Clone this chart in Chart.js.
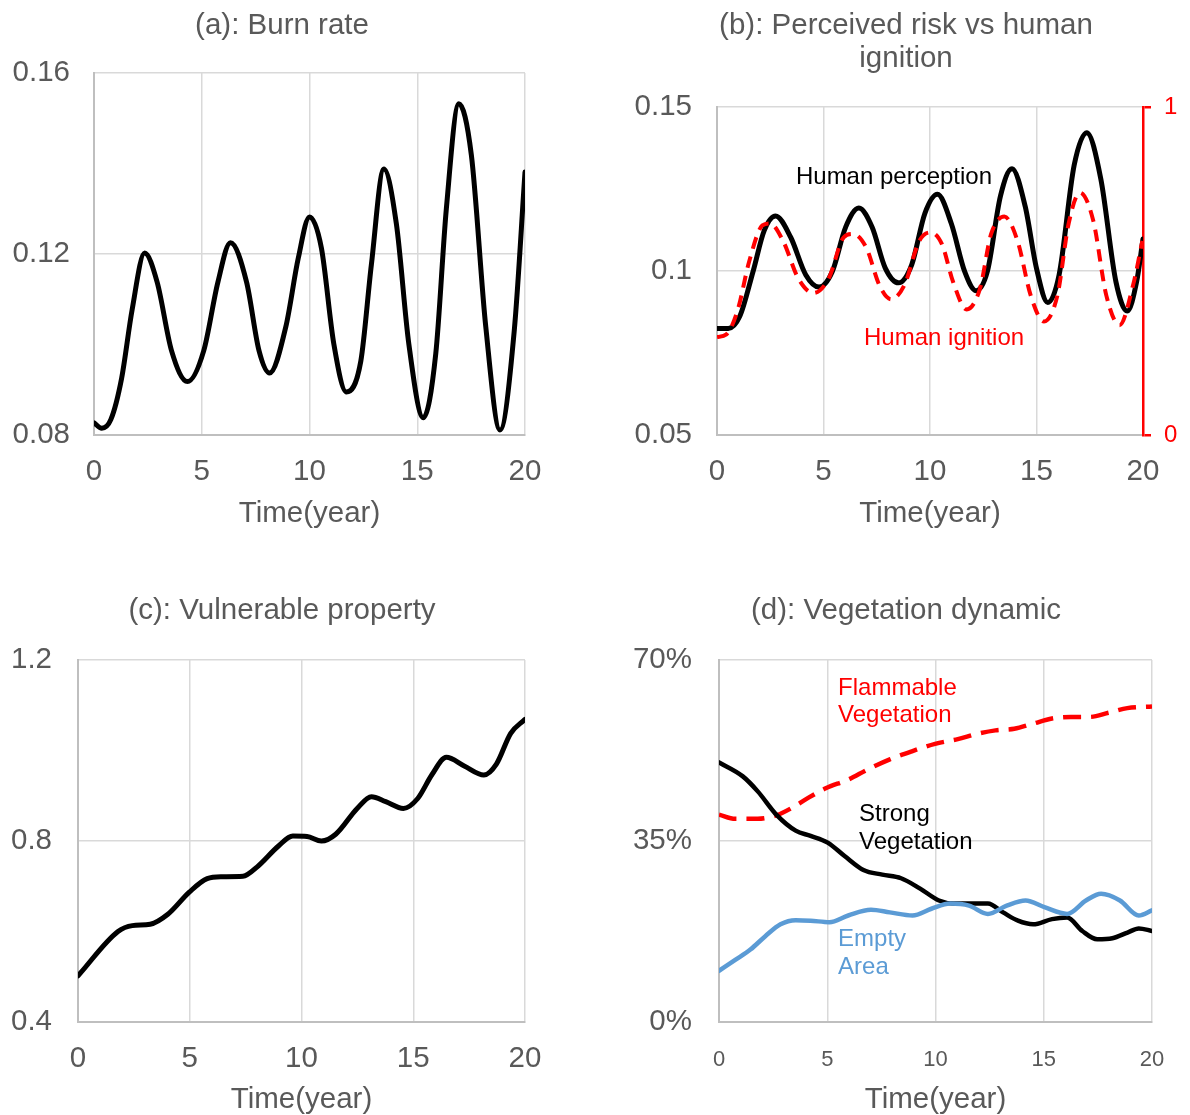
<!DOCTYPE html>
<html>
<head>
<meta charset="utf-8">
<script src="https://cdn.jsdelivr.net/npm/chart.js@4.4.1/dist/chart.umd.min.js"></script>
<style>
  body { margin: 0; background: #fff; width: 1190px; height: 1115px; position: relative; overflow: hidden; }
  .panel { position: absolute; width: 595px; }
</style>
</head>
<body>
<div class="panel" style="left:0;top:0;height:545px"><canvas id="burnChart"></canvas></div>
<div class="panel" style="left:595px;top:0;height:545px"><canvas id="riskChart"></canvas></div>
<div class="panel" style="left:0;top:545px;height:570px"><canvas id="propertyChart"></canvas></div>
<div class="panel" style="left:595px;top:545px;height:570px"><canvas id="vegChart"></canvas></div>
<script>
// (a) burn rate
const burnYears = [0, 0.36, 0.78, 1.28, 1.77, 2.35, 2.93, 3.6, 4.34, 5.09, 5.75, 6.33, 7.08, 7.66, 8.15, 8.9, 9.48, 10.0, 10.55, 11.13, 11.71, 12.38, 12.87, 13.45, 14.03, 14.61, 15.28, 15.86, 16.35, 16.93, 17.51, 18.18, 18.84, 19.5, 20];
const burnRate = [0.0827, 0.0815, 0.0834, 0.0925, 0.1077, 0.1202, 0.1138, 0.0986, 0.0918, 0.0986, 0.1138, 0.1225, 0.1138, 0.0986, 0.0937, 0.1039, 0.1191, 0.1282, 0.1214, 0.1001, 0.0895, 0.0963, 0.1176, 0.1388, 0.1267, 0.1001, 0.0838, 0.0980, 0.1300, 0.1532, 0.1419, 0.1039, 0.0811, 0.1030, 0.1381];

// (b) perceived risk (left axis) vs human ignition (right axis)
const percYears = [0, 0.53, 1.07, 1.69, 2.22, 2.75, 3.46, 4.17, 4.79, 5.41, 6.04, 6.66, 7.28, 7.9, 8.52, 9.14, 9.76, 10.35, 11.0, 11.63, 12.16, 12.69, 13.31, 13.85, 14.47, 15.0, 15.53, 16.06, 16.77, 17.36, 18.02, 18.73, 19.26, 19.7, 20];
const perception = [0.0825, 0.0825, 0.0862, 0.0998, 0.1124, 0.1168, 0.1103, 0.0988, 0.0951, 0.0998, 0.1134, 0.1192, 0.1134, 0.1009, 0.0964, 0.1019, 0.1176, 0.1234, 0.1145, 0.0998, 0.0940, 0.0998, 0.1229, 0.1312, 0.1197, 0.1008, 0.0904, 0.0988, 0.1323, 0.1422, 0.1281, 0.0967, 0.0878, 0.0967, 0.1098];
const ignYears = [0, 0.44, 0.98, 1.51, 2.13, 2.49, 3.1, 3.82, 4.53, 5.24, 5.95, 6.39, 7.01, 7.63, 8.17, 8.79, 9.5, 10.03, 10.56, 11.09, 11.72, 12.34, 12.87, 13.49, 14.11, 14.73, 15.35, 15.98, 16.51, 17.04, 17.66, 18.28, 18.9, 19.53, 19.97];
const ignition = [0.299, 0.307, 0.383, 0.529, 0.639, 0.645, 0.592, 0.477, 0.433, 0.477, 0.603, 0.613, 0.571, 0.456, 0.414, 0.456, 0.592, 0.618, 0.582, 0.466, 0.383, 0.445, 0.613, 0.666, 0.592, 0.425, 0.346, 0.425, 0.645, 0.739, 0.655, 0.425, 0.335, 0.456, 0.592];

// (c) vulnerable property
const propYears = [0, 1.79, 2.43, 3.23, 4.02, 4.98, 5.78, 6.42, 7.38, 8.02, 8.97, 9.61, 10.25, 10.89, 11.53, 12.49, 13.13, 13.77, 14.56, 15.2, 15.84, 16.48, 17.28, 18.16, 18.72, 19.36, 20];
const property = [0.502, 0.600, 0.613, 0.616, 0.638, 0.687, 0.717, 0.721, 0.722, 0.743, 0.789, 0.811, 0.810, 0.800, 0.815, 0.872, 0.898, 0.887, 0.872, 0.894, 0.947, 0.985, 0.966, 0.946, 0.970, 1.038, 1.069];

// (d) vegetation dynamic, percent
const strongYears = [0, 1.1, 1.79, 2.67, 3.54, 4.23, 5.02, 5.8, 6.67, 7.54, 8.41, 9.29, 10.16, 10.85, 11.72, 12.42, 13.12, 13.81, 14.51, 15.38, 16.08, 16.78, 17.47, 18.17, 18.87, 19.39, 20];
const strongVeg = [50.2, 47.5, 44.6, 40.0, 37.0, 36.0, 34.7, 32.1, 29.4, 28.5, 27.8, 25.8, 23.5, 22.9, 22.9, 22.9, 21.2, 19.6, 18.9, 19.9, 20.2, 17.6, 16.0, 16.2, 17.3, 18.1, 17.6];
const flamYears = [0, 0.75, 1.79, 2.67, 3.36, 4.06, 4.93, 5.98, 6.85, 7.89, 8.94, 9.98, 11.03, 11.9, 12.77, 13.64, 14.51, 15.38, 16.25, 17.12, 17.99, 18.86, 20];
const flammableVeg = [40.1, 39.3, 39.3, 40.0, 41.4, 43.2, 45.2, 46.9, 48.8, 50.8, 52.4, 53.8, 54.7, 55.7, 56.4, 56.7, 57.7, 58.7, 59.0, 59.0, 59.8, 60.7, 61.0];
const emptyYears = [0, 0.75, 1.45, 2.14, 2.84, 3.54, 4.23, 5.1, 5.97, 7.02, 7.89, 8.94, 9.81, 10.68, 11.55, 12.42, 13.29, 14.16, 15.03, 16.08, 16.95, 17.65, 18.52, 19.39, 20];
const emptyArea = [9.9, 12.0, 14.0, 16.6, 18.9, 19.7, 19.6, 19.3, 20.6, 21.7, 21.2, 20.6, 21.9, 22.9, 22.5, 20.9, 22.5, 23.5, 22.2, 20.9, 23.5, 24.8, 23.5, 20.6, 21.6];

const FONT = '"Liberation Sans", Arial, sans-serif';
const GREY = '#595959';
const RED = '#ff0000';
const BLUE = '#5b9bd5';
const BIG = 29.5;

function pts(xs, ys) {
  return xs.map((x, i) => ({ x: x, y: ys[i] }));
}

function line(label, xs, ys, color, width, dash, axis) {
  return {
    label: label,
    data: pts(xs, ys),
    borderColor: color,
    borderWidth: width,
    borderDash: dash || [],
    borderCapStyle: dash ? 'butt' : 'round',
    borderJoinStyle: 'round',
    pointRadius: 0,
    cubicInterpolationMode: 'monotone',
    yAxisID: axis || 'y'
  };
}

// empty right-hand axis, only used to push the title centre where the original has it
function spacer(w) {
  return {
    position: 'right',
    afterFit: a => { a.width = w; },
    ticks: { display: false },
    grid: { display: false },
    border: { display: false }
  };
}

// text labels drawn inside the plot, positioned in data units
const notesPlugin = {
  id: 'notes',
  afterDatasetsDraw(chart, args, opts) {
    const ctx = chart.ctx;
    (opts.items || []).forEach(n => {
      const px = chart.scales.x.getPixelForValue(n.x);
      const py = chart.scales.y.getPixelForValue(n.y);
      ctx.save();
      ctx.font = n.size + 'px ' + FONT;
      ctx.fillStyle = n.color;
      ctx.textAlign = n.align;
      ctx.textBaseline = 'middle';
      n.lines.forEach((t, i) => ctx.fillText(t, px, py + i * n.gap));
      ctx.restore();
    });
  }
};

function makeOptions(cfg) {
  return {
    responsive: true,
    maintainAspectRatio: false,
    animation: false,
    layout: { padding: { left: cfg.padL, right: cfg.padR, top: 0, bottom: 0 } },
    plugins: {
      legend: { display: false },
      tooltip: { enabled: false },
      title: {
        display: true,
        text: cfg.title,
        color: GREY,
        font: { family: FONT, size: BIG, weight: 'normal', lineHeight: 1.12 },
        padding: { top: cfg.titleTop, bottom: cfg.titleBottom }
      },
      notes: { items: cfg.notes || [] }
    },
    scales: Object.assign({
      x: {
        type: 'linear',
        min: 0, max: 20,
        afterFit: a => { a.height = cfg.xHeight; },
        ticks: { stepSize: 5, color: GREY, padding: cfg.xTickPad, font: { family: FONT, size: cfg.xTickSize || BIG } },
        grid: { color: '#d9d9d9', lineWidth: 1.5, drawTicks: false },
        border: { color: '#bfbfbf', width: 2 },
        title: {
          display: true, text: 'Time(year)', color: GREY,
          font: { family: FONT, size: BIG },
          padding: { top: 0, bottom: cfg.xTitlePad }
        }
      },
      y: {
        min: cfg.yMin, max: cfg.yMax,
        afterFit: a => { a.width = cfg.yWidth; },
        ticks: { stepSize: cfg.yStep, color: GREY, padding: cfg.yTickPad, font: { family: FONT, size: BIG }, callback: cfg.yFormat },
        grid: { color: '#d9d9d9', lineWidth: 1.5, drawTicks: false },
        border: { color: '#bfbfbf', width: 2 }
      }
    }, cfg.extraScales || {})
  };
}

new Chart(document.getElementById('burnChart'), {
  type: 'line',
  data: { datasets: [line('Burn rate', burnYears, burnRate, '#000', 5)] },
  options: makeOptions({
    title: '(a): Burn rate', titleTop: 9.5, titleBottom: 30.5,
    padL: 0, padR: 31, yWidth: 94, yTickPad: 24,
    xHeight: 110, xTickPad: 19, xTitlePad: 13,
    yMin: 0.08, yMax: 0.16, yStep: 0.04,
    extraScales: { pad: spacer(39) }
  }),
  plugins: [notesPlugin]
});

new Chart(document.getElementById('riskChart'), {
  type: 'line',
  data: {
    datasets: [
      line('Human ignition', ignYears, ignition, RED, 4, [12, 8], 'y2'),
      line('Human perception', percYears, perception, '#000', 5)
    ]
  },
  options: makeOptions({
    title: ['(b): Perceived risk vs human', 'ignition'], titleTop: 9.5, titleBottom: 31.5,
    padL: 27, padR: 0, yWidth: 95, yTickPad: 25,
    xHeight: 110, xTickPad: 19, xTitlePad: 13,
    yMin: 0.05, yMax: 0.15, yStep: 0.05,
    notes: [
      { lines: ['Human perception'], x: 8.31, y: 0.1287, color: '#000', align: 'center', size: 24, gap: 27 },
      { lines: ['Human ignition'], x: 10.66, y: 0.0796, color: RED, align: 'center', size: 24, gap: 27 }
    ],
    extraScales: {
      y2: {
        position: 'right',
        min: 0, max: 1,
        afterFit: a => { a.width = 47; },
        ticks: { stepSize: 1, color: RED, padding: 13, font: { family: FONT, size: 24 } },
        grid: { drawOnChartArea: false, color: RED, lineWidth: 2.5, tickLength: 8 },
        border: { color: RED, width: 2.5 }
      }
    }
  }),
  plugins: [notesPlugin]
});

new Chart(document.getElementById('propertyChart'), {
  type: 'line',
  data: { datasets: [line('Vulnerable property', propYears, property, '#000', 5)] },
  options: makeOptions({
    title: '(c): Vulnerable property', titleTop: 49.5, titleBottom: 32.5,
    padL: 0, padR: 31, yWidth: 78, yTickPad: 26,
    xHeight: 93, xTickPad: 19, xTitlePad: -3,
    yMin: 0.4, yMax: 1.2, yStep: 0.4,
    extraScales: { pad: spacer(39) }
  }),
  plugins: [notesPlugin]
});

new Chart(document.getElementById('vegChart'), {
  type: 'line',
  data: {
    datasets: [
      line('Empty Area', emptyYears, emptyArea, BLUE, 4.5),
      line('Strong Vegetation', strongYears, strongVeg, '#000', 4.5),
      line('Flammable Vegetation', flamYears, flammableVeg, RED, 4.5, [18, 10])
    ]
  },
  options: makeOptions({
    title: '(d): Vegetation dynamic', titleTop: 49.5, titleBottom: 32.5,
    padL: 27, padR: 0, yWidth: 97, yTickPad: 27,
    xHeight: 93, xTickPad: 25, xTickSize: 22, xTitlePad: -3,
    yMin: 0, yMax: 70, yStep: 35, yFormat: v => v + '%',
    notes: [
      { lines: ['Flammable', 'Vegetation'], x: 5.5, y: 64.6, color: RED, align: 'left', size: 24, gap: 27 },
      { lines: ['Strong', 'Vegetation'], x: 6.47, y: 40.2, color: '#000', align: 'left', size: 24, gap: 28 },
      { lines: ['Empty', 'Area'], x: 5.5, y: 15.9, color: BLUE, align: 'left', size: 24, gap: 28 }
    ],
    extraScales: { pad: spacer(38) }
  }),
  plugins: [notesPlugin]
});
</script>
</body>
</html>
